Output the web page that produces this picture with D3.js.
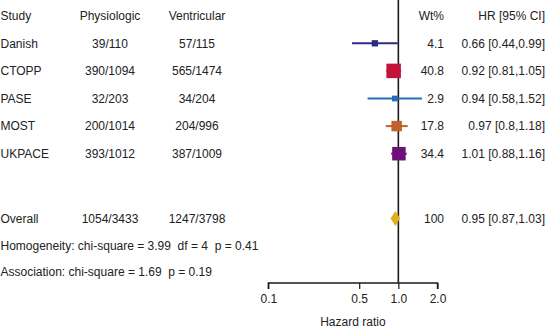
<!DOCTYPE html>
<html><head><meta charset="utf-8">
<script src="https://cdn.jsdelivr.net/npm/d3@7"></script>
<style>
html,body{margin:0;padding:0;background:#fff;}
svg text{font-family:"Liberation Sans",Arial,sans-serif;font-size:12px;fill:#222;white-space:pre;}
</style></head>
<body><svg id="c" width="546" height="328"></svg>
<script>
const studies = ["Danish","CTOPP","PASE","MOST","UKPACE"];
const physiologic = ["39/110","390/1094","32/203","200/1014","393/1012"];
const ventricular = ["57/115","565/1474","34/204","204/996","387/1009"];
const weights = [4.1,40.8,2.9,17.8,34.4];
const hr = [0.66,0.92,0.94,0.97,1.01];
const lower = [0.44,0.81,0.58,0.8,0.88];
const upper = [0.99,1.05,1.52,1.18,1.16];
const hrLabels = ["0.66 [0.44,0.99]","0.92 [0.81,1.05]","0.94 [0.58,1.52]","0.97 [0.8,1.18]","1.01 [0.88,1.16]"];
const colors = ["#2f2a85","#c3133a","#2470b8","#c0602a","#6e1078"];
const overall = {label:"Overall", physiologic:"1054/3433", ventricular:"1247/3798", wt:"100", hr:0.95, lower:0.87, upper:1.03, text:"0.95 [0.87,1.03]", color:"#e2ae1c"};
const headers = ["Study","Physiologic","Ventricular","Wt%","HR [95% CI]"];
const homogeneity = "Homogeneity: chi-square = 3.99  df = 4  p = 0.41";
const association = "Association: chi-square = 1.69  p = 0.19";
const tickValues = [0.1,0.5,1.0,2.0];
const tickLabels = ["0.1","0.5","1.0","2.0"];
const axisTitle = "Hazard ratio";

const svg = d3.select("#c");
const x = d3.scaleLog().domain([0.1,2]).range([268.3,437.5]);
const row = d3.scaleLinear().domain([0,1]).range([15.7,43.3]);
const size = d3.scaleSqrt().domain([0,40.8]).range([2.5,14.5]);
const yOverall = 218.5, yHomog = 245.7, yAssoc = 271.7, yAxis = 283;

const colX = {study:0.5, phys:110, vent:197, wt:444, hr:545};

// headers
const hy = row(0);
svg.append("text").attr("x",colX.study).attr("y",hy).attr("dy","0.35em").text(headers[0]);
svg.append("text").attr("x",colX.phys).attr("y",hy).attr("dy","0.35em").attr("text-anchor","middle").text(headers[1]);
svg.append("text").attr("x",colX.vent).attr("y",hy).attr("dy","0.35em").attr("text-anchor","middle").text(headers[2]);
svg.append("text").attr("x",colX.wt).attr("y",hy).attr("dy","0.35em").attr("text-anchor","end").text(headers[3]);
svg.append("text").attr("x",colX.hr).attr("y",hy).attr("dy","0.35em").attr("text-anchor","end").text(headers[4]);

// reference line
svg.append("line").attr("x1",x(1)).attr("x2",x(1)).attr("y1",0).attr("y2",yAxis)
  .attr("stroke","#1a1a1a").attr("stroke-width",1.6);

// study rows
const rows = svg.selectAll("g.row").data(studies).join("g").attr("class","row")
  .attr("transform",(d,i)=>`translate(0,${row(i+1)})`);
rows.append("text").attr("x",colX.study).attr("dy","0.35em").text(d=>d);
rows.append("text").attr("x",colX.phys).attr("dy","0.35em").attr("text-anchor","middle").text((d,i)=>physiologic[i]);
rows.append("text").attr("x",colX.vent).attr("dy","0.35em").attr("text-anchor","middle").text((d,i)=>ventricular[i]);
rows.append("text").attr("x",colX.wt).attr("dy","0.35em").attr("text-anchor","end").text((d,i)=>weights[i].toFixed(1));
rows.append("text").attr("x",colX.hr).attr("dy","0.35em").attr("text-anchor","end").text((d,i)=>hrLabels[i]);
rows.append("line").attr("x1",(d,i)=>x(lower[i])).attr("x2",(d,i)=>x(upper[i]))
  .attr("stroke",(d,i)=>colors[i]).attr("stroke-width",2);
rows.append("rect")
  .attr("x",(d,i)=>x(hr[i])-size(weights[i])/2).attr("y",(d,i)=>-size(weights[i])/2)
  .attr("width",(d,i)=>size(weights[i])).attr("height",(d,i)=>size(weights[i]))
  .attr("fill",(d,i)=>colors[i]);

// overall
const go = svg.append("g").attr("transform",`translate(0,${yOverall})`);
go.append("text").attr("x",colX.study).attr("dy","0.35em").text(overall.label);
go.append("text").attr("x",colX.phys).attr("dy","0.35em").attr("text-anchor","middle").text(overall.physiologic);
go.append("text").attr("x",colX.vent).attr("dy","0.35em").attr("text-anchor","middle").text(overall.ventricular);
go.append("text").attr("x",colX.wt).attr("dy","0.35em").attr("text-anchor","end").text(overall.wt);
go.append("text").attr("x",colX.hr).attr("dy","0.35em").attr("text-anchor","end").text(overall.text);
const dh = 7.5;
go.append("path").attr("d",`M${x(overall.lower)},0 L${x(overall.hr)},${-dh} L${x(overall.upper)},0 L${x(overall.hr)},${dh} Z`)
  .attr("fill",overall.color);

svg.append("text").attr("x",colX.study).attr("y",yHomog).attr("dy","0.35em").text(homogeneity);
svg.append("text").attr("x",colX.study).attr("y",yAssoc).attr("dy","0.35em").text(association);

// axis
const axis = d3.axisBottom(x).tickValues(tickValues).tickFormat((d,i)=>tickLabels[i]).tickSize(6).tickSizeOuter(0).tickPadding(5);
const ga = svg.append("g").attr("transform",`translate(0,${yAxis})`).call(axis);
ga.select(".domain").attr("stroke","#1a1a1a").attr("stroke-width",1.4).attr("d",`M${x(0.1)},6V0H${x(2)}V6`);
ga.selectAll(".tick line").attr("stroke","#1a1a1a").attr("stroke-width",1.2);
ga.selectAll(".tick text").attr("font-family","Liberation Sans, Arial, sans-serif").attr("font-size",12).attr("fill","#222");
svg.append("text").attr("x",(x(0.1)+x(2))/2).attr("y",321.7).attr("dy","0.35em").attr("text-anchor","middle").text(axisTitle);
</script></body></html>
